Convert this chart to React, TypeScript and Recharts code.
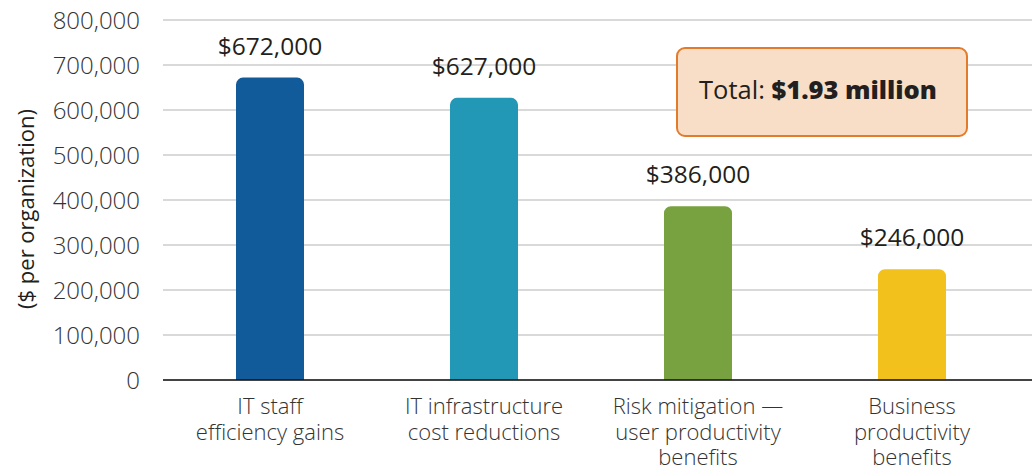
import React from 'react';
import { BarChart, Bar, XAxis, YAxis, CartesianGrid, LabelList, Label, Cell } from 'recharts';

const categories = [
   ['IT staff', 'efficiency gains'],
   ['IT infrastructure', 'cost reductions'],
   ['Risk mitigation \u2014', 'user productivity', 'benefits'],
   ['Business', 'productivity', 'benefits'],
];
const values = [672000, 627000, 386000, 246000];
const colors = ['#125B9B', '#2298B6', '#77A23F', '#F3C11B'];
const yTicks = [0, 100000, 200000, 300000, 400000, 500000, 600000, 700000, 800000];

const data = categories.map((lines, i) => ({ name: lines.join(' '), lines, value: values[i] }));

const FONT = '"Open Sans", "Segoe UI", sans-serif';
const fmt = (v: number) => v.toLocaleString('en-US');

const CategoryTick = (props: any) => {
   const { x, y, payload, index } = props;
   const lines = categories[index] ?? [payload.value];
   return (
      <text x={x} y={y} textAnchor="middle" fontFamily={FONT} fontSize={22} fontWeight={300} fill="#333">
         {lines.map((l: string, i: number) => (
            <tspan key={i} x={x} y={y + 26 + i * 25.5}>
               {l}
            </tspan>
         ))}
      </text>
   );
};

const ValueLabel = (props: any) => {
   const { x, y, width, value } = props;
   return (
      <text x={x + width / 2} y={y - 23} textAnchor="middle" fontFamily={FONT} fontSize={24.5} fill="#231f20">
         ${fmt(value)}
      </text>
   );
};

export default function App() {
   return (
      <div style={{ position: 'absolute', left: 0, top: 0, width: 1032, height: 471, background: '#fff' }}>
         <BarChart width={1032} height={471} data={data} margin={{ top: 20, right: 0, bottom: 0, left: 0 }} barSize={68}>
            <CartesianGrid vertical={false} stroke="#b3b3b3" strokeWidth={1} />
            <XAxis
               dataKey="name"
               height={91}
               interval={0}
               tickLine={false}
               axisLine={{ stroke: '#111', strokeWidth: 1.5 }}
               tick={<CategoryTick />}
               padding={{ left: 0, right: 13 }}
            />
            <YAxis
               width={163}
               domain={[0, 800000]}
               ticks={yTicks}
               interval={0}
               axisLine={false}
               tickLine={false}
               tickMargin={17}
               tickFormatter={fmt}
               tick={{ fontFamily: FONT, fontSize: 24, fontWeight: 300, fill: '#333' }}
            >
               <Label
                  content={(p: any) => {
                     const vb = p.viewBox;
                     const cx = vb.x + 25;
                     const cy = vb.y + vb.height / 2 + 9;
                     return (
                        <text
                           x={cx}
                           y={cy}
                           transform={`rotate(-90 ${cx} ${cy})`}
                           textAnchor="middle"
                           dominantBaseline="central"
                           fontFamily={FONT}
                           fontSize={22}
                           fill="#231f20"
                        >
                           ($ per organization)
                        </text>
                     );
                  }}
               />
            </YAxis>
            <Bar dataKey="value" radius={[7, 7, 0, 0]} isAnimationActive={false}>
               {data.map((d, i) => (
                  <Cell key={d.name} fill={colors[i]} />
               ))}
               <LabelList dataKey="value" content={<ValueLabel />} />
            </Bar>
         </BarChart>
         <div
            style={{
               position: 'absolute',
               left: 676,
               top: 47,
               width: 292,
               height: 90,
               boxSizing: 'border-box',
               border: '2.5px solid #E47B2B',
               borderRadius: 9,
               background: '#F8DEC6',
               display: 'flex',
               alignItems: 'center',
               justifyContent: 'center',
               fontFamily: FONT,
               fontSize: 25.5,
               color: '#231f20',
               paddingRight: 8,
               paddingBottom: 6,
            }}
         >
            <span>
               Total: <b style={{ fontWeight: 800 }}>$1.93 million</b>
            </span>
         </div>
      </div>
   );
}
